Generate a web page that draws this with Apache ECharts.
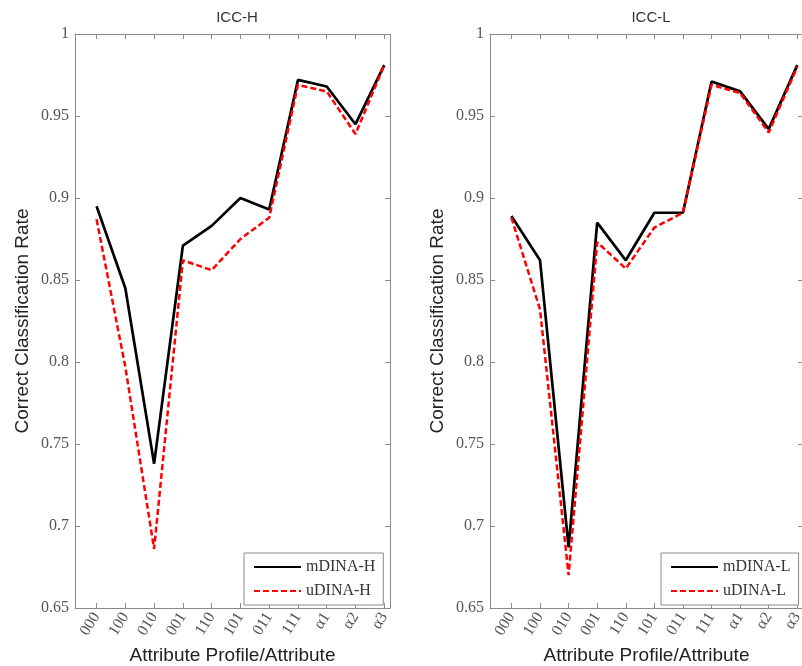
<!DOCTYPE html>
<html>
<head>
<meta charset="utf-8">
<script src="https://cdn.jsdelivr.net/npm/echarts@6/dist/echarts.min.js"></script>
<style>html,body{margin:0;padding:0;background:#fff}#c{width:802px;height:666px}</style>
</head>
<body>
<div id="c"></div>
<script>
var categories = ['000','100','010','001','110','101','011','111','\u03B11','\u03B12','\u03B13'];
var yTicks = [0.65,0.7,0.75,0.8,0.85,0.9,0.95,1];
var panelTitles = ['ICC-H','ICC-L'];
var mDINA_H = [0.895,0.845,0.738,0.871,0.883,0.900,0.893,0.972,0.968,0.945,0.981];
var uDINA_H = [0.887,0.797,0.686,0.862,0.856,0.875,0.888,0.969,0.965,0.939,0.981];
var mDINA_L = [0.889,0.862,0.687,0.885,0.862,0.891,0.891,0.971,0.965,0.942,0.981];
var uDINA_L = [0.888,0.832,0.670,0.873,0.857,0.882,0.891,0.969,0.964,0.940,0.980];

var positions = categories.map(function(_, i){ return i + 1; });
function pairs(vals){ return vals.map(function(v, i){ return [positions[i], v]; }); }

var serif = '"Liberation Serif","DejaVu Serif",serif';
var sans = '"Liberation Sans",Arial,sans-serif';
var axisGray = '#8a8a8a';
var labelGray = '#555';

var grids = [
  {left: 75, top: 34, width: 315, height: 574, outerBoundsMode: 'none', containLabel: false},
  {left: 490, top: 34, width: 313, height: 574, outerBoundsMode: 'none', containLabel: false}
];

function xAx(gi, pos, showLabel){
  return {
    type: 'value', gridIndex: gi, position: pos, min: 0.25, max: 11.2,
    axisLine: {show: true, onZero: false, lineStyle: {color: axisGray, width: 1}},
    axisTick: {show: true, inside: true, length: 5, customValues: positions, lineStyle: {color: axisGray}},
    axisLabel: {show: showLabel, customValues: positions, rotate: 58, margin: 6,
      fontFamily: serif, fontSize: 16, color: labelGray,
      formatter: function(v){ return categories[Math.round(v) - 1]; }},
    splitLine: {show: false},
    name: showLabel ? 'Attribute Profile/Attribute' : '',
    nameLocation: 'middle', nameGap: 35,
    nameTextStyle: {fontFamily: sans, fontSize: 19, color: '#222'}
  };
}
function yAx(gi, pos, showLabel){
  return {
    type: 'value', gridIndex: gi, position: pos, min: 0.65, max: 1, interval: 0.05,
    axisLine: {show: true, lineStyle: {color: axisGray, width: 1}},
    axisTick: {show: true, inside: true, length: 5, lineStyle: {color: axisGray}},
    axisLabel: {show: showLabel, margin: 6, fontFamily: serif, fontSize: 16, color: labelGray,
      formatter: function(v){ return String(+v.toFixed(2)); }},
    splitLine: {show: false},
    name: showLabel ? 'Correct Classification Rate' : '',
    nameLocation: 'middle', nameGap: 43, nameRotate: 90,
    nameTextStyle: {fontFamily: sans, fontSize: 19, color: '#222'}
  };
}

function lineSeries(name, vals, xi, yi, dashed){
  return {
    name: name, type: 'line', xAxisIndex: xi, yAxisIndex: yi,
    data: pairs(vals), symbol: 'none', showSymbol: false, z: dashed ? 3 : 2,
    lineStyle: dashed ? {color: '#ff0000', width: 2.5, type: [6, 3]} : {color: '#000', width: 2.7},
    itemStyle: {color: dashed ? '#ff0000' : '#000'}
  };
}

function legendFor(names, left, width){
  return {
    data: names, orient: 'vertical', left: left, top: 553, width: width,
    padding: [6, 8, 6, 9], itemGap: 8, itemWidth: 47, itemHeight: 12,
    backgroundColor: '#fff', borderColor: axisGray, borderWidth: 1,
    itemStyle: {opacity: 0},
    textStyle: {fontFamily: serif, fontSize: 16, color: '#333'}
  };
}

var chart = echarts.init(document.getElementById('c'), null, {renderer: 'canvas'});
chart.setOption({
  animation: false,
  backgroundColor: '#fff',
  title: [
    {text: panelTitles[0], left: 232, top: 5, textAlign: 'center',
     textStyle: {fontFamily: sans, fontSize: 15, fontWeight: 'normal', color: '#333'}},
    {text: panelTitles[1], left: 646, top: 5, textAlign: 'center',
     textStyle: {fontFamily: sans, fontSize: 15, fontWeight: 'normal', color: '#333'}}
  ],
  grid: grids,
  xAxis: [xAx(0, 'bottom', true), xAx(0, 'top', false), xAx(1, 'bottom', true), xAx(1, 'top', false)],
  yAxis: [yAx(0, 'left', true), yAx(0, 'right', false), yAx(1, 'left', true), yAx(1, 'right', false)],
  legend: [legendFor(['mDINA-H','uDINA-H'], 244, 125), legendFor(['mDINA-L','uDINA-L'], 661, 125)],
  series: [
    lineSeries('mDINA-H', mDINA_H, 0, 0, false),
    lineSeries('uDINA-H', uDINA_H, 0, 0, true),
    lineSeries('mDINA-L', mDINA_L, 2, 2, false),
    lineSeries('uDINA-L', uDINA_L, 2, 2, true)
  ]
});
</script>
</body>
</html>
